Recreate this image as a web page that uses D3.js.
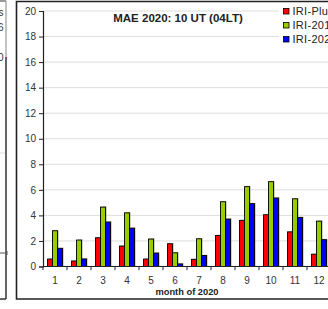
<!DOCTYPE html>
<html>
<head>
<meta charset="utf-8">
<script src="https://cdn.jsdelivr.net/npm/d3@7"></script>
<style>
  body { margin: 0; background: #fff; }
  text { font-family: "Liberation Sans", Arial, sans-serif; }
</style>
</head>
<body>
<div id="chart"></div>
<script>
// month of 2020
var months = [1, 2, 3, 4, 5, 6, 7, 8, 9, 10, 11, 12];
var seriesNames = ["IRI-Plus", "IRI-2016", "IRI-2020"];
var seriesColors = ["#ff0000", "#99cc00", "#0000ff"];
// MAE values
var iriPlus = [0.58, 0.43, 2.25, 1.6, 0.58, 1.78, 0.56, 2.43, 3.61, 4.05, 2.71, 0.96];
var iri2016 = [2.8, 2.07, 4.65, 4.2, 2.15, 1.07, 2.17, 5.07, 6.25, 6.64, 5.3, 3.55];
var iri2020 = [1.42, 0.59, 3.48, 3.0, 1.05, 0.2, 0.86, 3.71, 4.92, 5.36, 3.84, 2.1];
var yTicks = [0, 2, 4, 6, 8, 10, 12, 14, 16, 18, 20];

var svgWidth = 328;
var svgHeight = 309;

var margin = { top: 11, bottom: 42.5, left: 43, right: -3 };
var width = svgWidth - margin.left - margin.right;
var height = svgHeight - margin.top - margin.bottom;

var svg = d3.select("#chart")
  .append("svg")
  .attr("width", svgWidth)
  .attr("height", svgHeight);

// bits of the neighbouring chart on the left
svg.append("line").attr("x1", 0).attr("x2", 6).attr("y1", 1).attr("y2", 1)
  .attr("stroke", "#555").attr("stroke-width", 1.2);
svg.append("line").attr("x1", 6).attr("x2", 6).attr("y1", 1).attr("y2", 57)
  .attr("stroke", "#999").attr("stroke-width", 1.2);
svg.append("line").attr("x1", 6).attr("x2", 6).attr("y1", 57).attr("y2", 299)
  .attr("stroke", "#333").attr("stroke-width", 1.5);
svg.append("line").attr("x1", 0).attr("x2", 6).attr("y1", 299).attr("y2", 299)
  .attr("stroke", "#333").attr("stroke-width", 1.5);
svg.append("line").attr("x1", 0).attr("x2", 5).attr("y1", 153).attr("y2", 153)
  .attr("stroke", "#ddd").attr("stroke-width", 1);
svg.append("line").attr("x1", 0).attr("x2", 7).attr("y1", 253).attr("y2", 253)
  .attr("stroke", "#555").attr("stroke-width", 1);
svg.append("line").attr("x1", 7).attr("x2", 7).attr("y1", 251).attr("y2", 255)
  .attr("stroke", "#555").attr("stroke-width", 1);
var leftBits = [{ t: "IRI-Plus", y: 16 }, { t: "IRI-2016", y: 31 }, { t: "20", y: 61 }];
svg.selectAll(".leftbit").data(leftBits).enter().append("text")
  .attr("class", "leftbit")
  .attr("x", 3.5).attr("y", d => d.y)
  .attr("text-anchor", "end")
  .attr("font-size", 10).attr("fill", "#333")
  .text(d => d.t);

// main chart frame
svg.append("path")
  .attr("d", "M330,1.5 H16.5 V299 H330")
  .attr("fill", "none")
  .attr("stroke", "#222")
  .attr("stroke-width", 1.6);

var chartGroup = svg.append("g")
  .attr("transform", `translate(${margin.left}, ${margin.top})`);

var x0 = d3.scaleBand()
  .domain(months)
  .range([0, width])
  .padding(0);

var x1 = d3.scaleBand()
  .domain(seriesNames)
  .range([x0.bandwidth() * 0.1875, x0.bandwidth() * 0.8125]);

var yLinearScale = d3.scaleLinear()
  .domain([0, 20])
  .range([height, 0]);

// gridlines
chartGroup.selectAll(".grid")
  .data(yTicks.slice(1))
  .enter()
  .append("line")
  .attr("x1", 0)
  .attr("x2", width)
  .attr("y1", d => yLinearScale(d))
  .attr("y2", d => yLinearScale(d))
  .attr("stroke", "#dedede")
  .attr("stroke-width", 1);

var table = months.map((m, i) => ({
  month: m,
  values: [iriPlus[i], iri2016[i], iri2020[i]].map((v, j) => ({ name: seriesNames[j], value: v, color: seriesColors[j] }))
}));

var groups = chartGroup.selectAll(".month")
  .data(table)
  .enter()
  .append("g")
  .attr("transform", d => `translate(${x0(d.month)},0)`);

// shadows
groups.selectAll(".shadow")
  .data(d => d.values)
  .enter()
  .append("rect")
  .attr("x", d => x1(d.name) + 1.2)
  .attr("y", d => yLinearScale(d.value) - 0.8)
  .attr("width", x1.bandwidth())
  .attr("height", d => height - yLinearScale(d.value) + 0.8)
  .attr("fill", "#888")
  .attr("opacity", 0.55);

groups.selectAll(".bar")
  .data(d => d.values)
  .enter()
  .append("rect")
  .attr("x", d => x1(d.name))
  .attr("y", d => yLinearScale(d.value))
  .attr("width", x1.bandwidth())
  .attr("height", d => height - yLinearScale(d.value))
  .attr("fill", d => d.color)
  .attr("stroke", "#000")
  .attr("stroke-width", 0.9);

// axes
var leftAxis = d3.axisLeft(yLinearScale).tickValues(yTicks).tickSize(4).tickPadding(3);
var yAxis = chartGroup.append("g").call(leftAxis);
yAxis.select(".domain").attr("stroke", "#222").attr("stroke-width", 1.2);
yAxis.selectAll(".tick line").attr("stroke", "#222");
yAxis.selectAll("text").attr("font-size", 10).attr("fill", "#333")
  .style("font-family", "'Liberation Sans', Arial, sans-serif");

var xAxisG = chartGroup.append("g").attr("transform", `translate(0, ${height})`);
xAxisG.append("line")
  .attr("x1", 0).attr("x2", width)
  .attr("stroke", "#222").attr("stroke-width", 1.2);
xAxisG.selectAll(".xtick")
  .data(months)
  .enter()
  .append("line")
  .attr("x1", d => x0(d) + x0.bandwidth())
  .attr("x2", d => x0(d) + x0.bandwidth())
  .attr("y1", 0).attr("y2", 3.5)
  .attr("stroke", "#222");
xAxisG.append("line").attr("x1", 0).attr("x2", 0).attr("y1", 0).attr("y2", 3.5).attr("stroke", "#222");
xAxisG.selectAll(".xlabel")
  .data(months)
  .enter()
  .append("text")
  .attr("x", d => x0(d) + x0.bandwidth() / 2)
  .attr("y", 17)
  .attr("text-anchor", "middle")
  .attr("font-size", 10)
  .attr("fill", "#333")
  .text(d => d);

svg.append("text")
  .attr("x", 187)
  .attr("y", 295)
  .attr("text-anchor", "middle")
  .attr("font-size", 9.3)
  .attr("font-weight", "bold")
  .attr("fill", "#222")
  .text("month of 2020");

svg.append("text")
  .attr("x", 178)
  .attr("y", 22)
  .attr("text-anchor", "middle")
  .attr("font-size", 11.5)
  .attr("font-weight", "bold")
  .attr("fill", "#222")
  .text("MAE 2020: 10 UT (04LT)");

// legend
var legend = svg.append("g").attr("transform", "translate(279, 3)");
legend.append("rect")
  .attr("x", 0).attr("y", 0)
  .attr("width", 52).attr("height", 44)
  .attr("fill", "#fff");
var items = legend.selectAll(".item")
  .data(seriesNames)
  .enter()
  .append("g")
  .attr("transform", (d, i) => `translate(0, ${i * 14})`);
items.append("rect")
  .attr("x", 4.5).attr("y", 5.5)
  .attr("width", 5.5).attr("height", 5.5)
  .attr("fill", (d, i) => seriesColors[i])
  .attr("stroke", "#000")
  .attr("stroke-width", 0.8);
items.append("text")
  .attr("x", 13.5).attr("y", 12.2)
  .attr("font-size", 11)
  .attr("letter-spacing", 0.3)
  .attr("fill", "#222")
  .text(d => d);
</script>
</body>
</html>
